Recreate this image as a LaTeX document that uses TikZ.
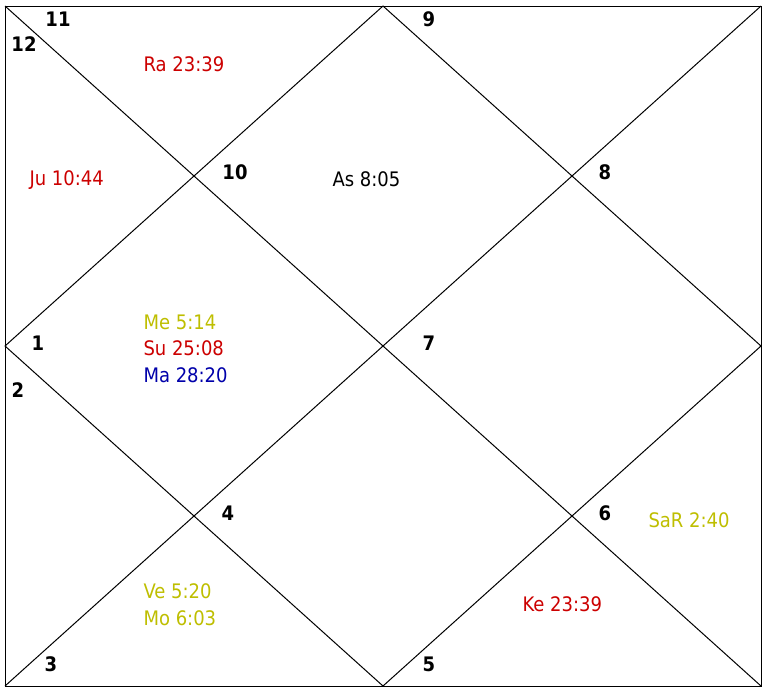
\documentclass[tikz,border=0pt]{standalone}
\usepackage{fontspec}
\setmainfont{DejaVu Sans}[FakeStretch=0.9]
\definecolor{plred}{RGB}{204,0,0}
\definecolor{plolive}{RGB}{190,190,0}
\definecolor{plblue}{RGB}{0,0,170}
\begin{document}
\begin{tikzpicture}[x=1pt, y=-1pt, line width=1pt,
	num/.style={font=\fontsize{20}{24}\selectfont\bfseries, anchor=base, inner sep=0pt},
	pl/.style={font=\fontsize{20}{24}\selectfont, anchor=base west, inner sep=0pt}]
	\useasboundingbox (0,0) rectangle (769,688);
	\coordinate (tl) at (5,6);
	\coordinate (tr) at (761,6);
	\coordinate (bl) at (5,686);
	\coordinate (br) at (761,686);
	\coordinate (tm) at (383,6);
	\coordinate (rm) at (761,346);
	\coordinate (bm) at (383,686);
	\coordinate (lm) at (5,346);
	\draw (tl) rectangle (br);
	\draw (tl) -- (br);
	\draw (tr) -- (bl);
	\draw (tm) -- (rm) -- (bm) -- (lm) -- cycle;
	% house numbers
	\foreach \n/\x/\y in {11/58/27, 12/24/51, 10/235/179, 9/429/27, 8/605/179, 1/38/350,
		2/18/397, 7/429/350, 4/228/520, 6/605/520, 3/51/671, 5/429/671}
		\node[num] (h\n) at (\x,\y) {\n};
	% planets
	\node[pl, text=plred] (ra) at (143,71) {Ra 23:39};
	\node[pl, text=plred] (ju) at (29,185) {Ju 10:44};
	\node[pl] (as) at (332,186) {As 8:05};
	\node[pl, text=plolive] (me) at (143,329) {Me 5:14};
	\node[pl, text=plred] (su) at (143,355) {Su 25:08};
	\node[pl, text=plblue] (ma) at (143,382) {Ma 28:20};
	\node[pl, text=plolive] (sa) at (648,527) {SaR 2:40};
	\node[pl, text=plred] (ke) at (522,611) {Ke 23:39};
	\node[pl, text=plolive] (ve) at (143,598) {Ve 5:20};
	\node[pl, text=plolive] (mo) at (143,625) {Mo 6:03};
\end{tikzpicture}
\end{document}
